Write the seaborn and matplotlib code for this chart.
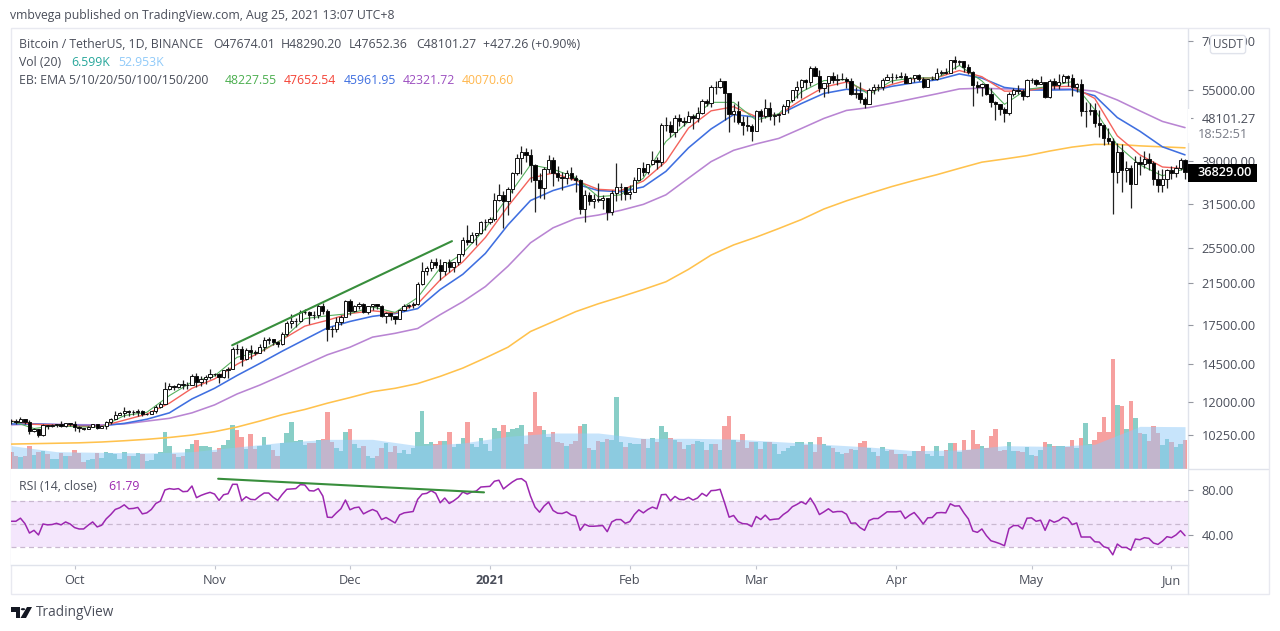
import matplotlib
matplotlib.use("Agg")
import matplotlib.pyplot as plt
from matplotlib.patches import Rectangle, Polygon, Circle
import pandas as pd
import seaborn as sns

# ===============================
# DATA
# ===============================
closes = [
    # Sep 17 - Sep 30
    10938, 10920, 11080, 10920, 10417, 10529, 10241, 10737, 10690, 10728, 10774, 10696, 10840, 10776,
    # Oct
    10619, 10570, 10545, 10665, 10790, 10600, 10670, 10925, 11050, 11296, 11370, 11530, 11425, 11430, 11505, 11320,
    11360, 11495, 11750, 11910, 12800, 12965, 12931, 13107, 13031, 13070, 13640, 13280, 13455, 13560, 13803,
    # Nov
    13763, 13549, 14023, 14144, 15590, 15579, 14817, 15475, 15328, 15297, 15701, 16276, 16317, 16068, 15955,
    16716, 17645, 17804, 17817, 18621, 18642, 18370, 18364, 19160, 18720, 17150, 17139, 17719, 18184, 19695,
    # Dec
    18765, 19204, 19421, 18650, 19147, 19359, 19166, 18324, 18541, 18254, 18036, 18808, 19175, 19273, 19426, 21335,
    22797, 23107, 23821, 23455, 22719, 23810, 23232, 23729, 24712, 26493, 26281, 27079, 27385, 28875, 28923,
    # Jan
    29331, 32178, 33000, 31988, 33949, 36769, 39432, 40582, 40088, 38150, 35404, 34051, 37371, 39145, 36742, 35994,
    35828, 36631, 35891, 35468, 30850, 32945, 32078, 32259, 32254, 32467, 30366, 33364, 34252, 34262, 33092,
    # Feb
    33526, 35466, 37618, 36936, 38290, 39186, 38795, 46374, 46420, 44807, 47969, 47287, 47153, 48577, 47911, 49133,
    52119, 51552, 55906, 55841, 57408, 54087, 48891, 49676, 47073, 46276, 46106, 45135,
    # Mar
    49587, 48440, 50349, 48374, 48751, 48882, 50971, 52375, 54884, 55851, 57773, 57221, 61188, 58968, 55605, 56900,
    58912, 57648, 58030, 58102, 57351, 54083, 54340, 52527, 51417, 55074, 55863, 55777, 57635, 58746, 58740,
    # Apr
    58720, 58950, 57059, 58206, 59054, 58020, 55947, 58048, 58102, 59774, 59964, 59834, 63588, 62971, 63229, 61427,
    60058, 56274, 55715, 56573, 53965, 51810, 51320, 50050, 49066, 54022, 55033, 54825, 53556, 57694,
    # May
    57800, 56578, 57169, 53200, 57437, 56393, 57314, 58862, 58240, 55816, 56670, 49631, 49670, 49841, 46762, 46431,
    43538, 42909, 36973, 40596, 37304, 37536, 34770, 38705, 38402, 39294, 38556, 35658, 34581, 35663, 37294,
    # Jun
    36687, 37555, 39187, 36829,
]
opens = [10940] + closes[:-1]
highs = [
    11040, 11040, 11180, 11050, 10990, 10570, 10540, 10780, 10760, 10790, 10800, 10950, 10860, 10850,
    10930, 10670, 10590, 10700, 10800, 10800, 10690, 10960, 11100, 11490, 11450, 11720, 11560, 11550, 11630, 11540,
    11410, 11520, 11820, 12040, 13220, 13190, 13030, 13170, 13350, 13250, 13790, 13860, 13650, 13680, 14100,
    13870, 13830, 14070, 14260, 15750, 15970, 15770, 15660, 15840, 15480, 15960, 16480, 16480, 16350, 16180,
    16880, 17860, 18480, 18140, 18820, 18960, 18750, 18770, 19420, 19480, 18920, 17450, 18150, 18350, 19800,
    19890, 19310, 19540, 19500, 19180, 19420, 19420, 19290, 18640, 18560, 18290, 18950, 19410, 19350, 19570, 21560,
    23800, 23280, 24170, 24300, 24100, 23840, 24100, 23780, 24790, 26870, 28420, 27500, 27410, 28990, 29300,
    29600, 33300, 34780, 33600, 34360, 36940, 40360, 41950, 41380, 41350, 38260, 36630, 37850, 40100, 39750, 37950,
    36850, 37300, 37850, 36400, 35600, 33830, 33450, 33070, 34880, 32920, 32550, 33780, 38500, 34930, 34280,
    34700, 35980, 37660, 38700, 38300, 40950, 39700, 46790, 48200, 47310, 48680, 48980, 48150, 49700, 49000, 50600,
    52620, 52550, 56370, 57580, 58350, 57540, 54200, 51370, 52040, 48370, 48380, 46500,
    49800, 50200, 52640, 51770, 49450, 49200, 51450, 52400, 54900, 57390, 58150, 58050, 61840, 61700, 60630, 56940,
    58980, 60100, 59450, 59880, 58590, 58400, 55840, 57200, 53230, 55450, 56640, 56580, 58400, 59370, 59800,
    59490, 60050, 59800, 58490, 59250, 59480, 58650, 58150, 58900, 61300, 60690, 61200, 63780, 64850, 63800, 63520,
    62500, 60400, 57600, 57000, 56760, 55460, 52130, 51170, 50600, 54360, 55460, 56430, 55200, 57960,
    58460, 57940, 59000, 57200, 58000, 58360, 59500, 59500, 59300, 59600, 56900, 58000, 52000, 51560, 51570, 49800,
    46650, 45800, 43550, 42460, 42250, 38850, 38250, 39920, 39800, 40850, 40400, 38900, 37240, 37500, 37500,
    37900, 38230, 39480, 39300,
]
lows = [
    10780, 10820, 10900, 10800, 10260, 10360, 10150, 10200, 10530, 10650, 10630, 10640, 10640, 10670,
    10430, 10370, 10500, 10530, 10630, 10530, 10570, 10530, 10820, 11040, 11280, 11180, 11200, 11270, 11230, 11200,
    11300, 11330, 11410, 11680, 11900, 12720, 12720, 12880, 12800, 12790, 13060, 12950, 12980, 13150, 13430,
    13620, 13200, 13520, 13520, 14090, 15190, 14340, 14720, 14810, 15080, 15280, 15440, 15950, 15860, 15700,
    15870, 16560, 17210, 17350, 17760, 18420, 17610, 18010, 18080, 18480, 16190, 16530, 16880, 17520, 18180,
    18330, 18620, 18870, 18580, 18500, 18860, 18900, 18200, 17650, 17910, 17570, 18020, 18710, 19000, 19050, 19280,
    21230, 22350, 22750, 23060, 21810, 22350, 22700, 22600, 23440, 24500, 25850, 26100, 25880, 27320, 27850,
    28620, 29000, 32000, 28130, 29900, 33300, 36300, 36500, 38720, 35100, 30420, 32530, 32380, 36700, 34400, 35360,
    33850, 34800, 35500, 33400, 30070, 28850, 31400, 30900, 31900, 30830, 29240, 29840, 31990, 32200, 32170,
    32300, 33420, 35400, 36160, 36570, 38100, 37350, 38050, 45000, 43730, 43730, 46250, 46200, 47050, 45570, 47010,
    48950, 50880, 50700, 53860, 55480, 47600, 44890, 47000, 46700, 44100, 45000, 43000,
    45000, 47000, 48100, 47500, 46300, 47070, 48880, 49270, 51830, 53000, 53020, 55270, 56080, 58960, 54570, 53210,
    54120, 57020, 56270, 57820, 55450, 53650, 53000, 51700, 50430, 51500, 53960, 54680, 54900, 57850, 56870,
    57930, 58450, 57000, 56960, 57300, 57600, 55470, 55700, 57700, 57900, 59170, 59360, 59800, 61000, 62020, 60000,
    59580, 50930, 54200, 53350, 53600, 50580, 47500, 48750, 47000, 48800, 53320, 53900, 52330, 53070,
    57000, 56040, 56900, 53000, 52900, 55200, 55300, 56900, 56230, 53400, 54370, 48500, 46000, 48800, 46000, 43800,
    42100, 42200, 30000, 34900, 33500, 35200, 31000, 34800, 36400, 37700, 37200, 34700, 33400, 33400, 34200,
    35670, 35980, 37180, 35600,
]
volumes = [
    52, 40, 36, 38, 68, 42, 50, 54, 44, 30, 30, 48, 38, 40, 58, 48, 20, 26, 30, 48,
    34, 50, 48, 44, 30, 50, 40, 40, 48, 46, 24, 26, 44, 50, 110, 68, 46, 36, 38, 60,
    76, 88, 70, 68, 66, 50, 62, 72, 88, 132, 116, 96, 60, 104, 60, 70, 96, 72, 56, 38,
    78, 108, 140, 84, 88, 72, 78, 78, 88,
    90, 172, 80, 64, 54, 110, 120, 74, 64, 68, 38, 34, 40, 62, 78, 52, 68, 48, 56, 46,
    62, 110, 174, 76, 82, 74, 84, 84, 112, 66, 74, 94, 140, 76, 66, 92, 74, 54, 122, 114,
    132, 110, 120, 124, 132, 76, 112, 232, 128, 116, 96, 112, 82, 78, 70, 74, 84, 128, 136, 64,
    56, 84, 82, 90, 88, 216, 82, 66, 78, 74, 76,
    90, 64, 94, 82, 130, 110, 92, 86, 82, 60, 72, 76, 84, 82, 58, 76, 76, 56, 128, 158,
    88, 80, 104, 64, 80, 82, 60, 80, 80, 74, 44, 54, 64, 70, 82, 80, 72, 80, 52, 96,
    74, 70, 64, 52, 44, 48, 60, 58, 78, 84, 62, 50, 40, 66, 54, 58, 46, 46, 46, 40,
    54, 54, 68, 44, 40, 68, 40, 56, 78, 78, 52,
    88, 58, 118, 76, 70, 64, 98, 120, 54, 56, 82, 54, 54, 52, 66, 42, 38, 56, 80, 74,
    70, 70, 68, 66, 88, 62, 94, 138, 76, 88, 110, 156, 112, 330, 192, 190, 120, 204, 152, 108,
    104, 84, 128, 108, 72, 90, 80, 66, 74, 88,
]
vol_ma_idx = list(range(0, 261, 10))
vol_ma = [70, 52, 50, 48, 52, 66, 80, 89, 89, 70, 78, 98, 108, 108, 92, 92, 90, 82, 74, 66, 55, 57, 70, 68, 74, 128, 127]
rsi = [
    52.5, 52.5, 55.2, 50.4, 42.1, 44.5, 40.4, 50.1, 49.3, 49.6, 50.7, 49.3, 51.9, 50.1, 46.9, 45.7, 45.7, 49, 51.9, 47.5,
    49, 54.6, 58.4, 62.9, 64.4, 67, 63.5, 63.8, 64.7, 59, 59.9, 62.9, 68.2, 70.3, 80.1, 81.3, 80.7, 81.3, 78.6, 78.9,
    83.6, 73.3, 75.3, 76.8, 78, 76.5, 70.9, 75.9, 76.8, 85.1, 85.1, 70.6, 74.1, 71.8, 71.5, 74.7, 77.4, 77.4, 73.6, 70.9,
    76.2, 80.7, 81, 81.3, 84.8, 84.5, 79.5, 79.2, 81.3,
    74.7, 56.1, 55.8, 59.9, 63.5, 71.2, 62.6, 64.4, 65, 59, 61.1, 62.9, 61.1, 54, 55.8, 53.4, 51, 58.1, 59.9, 60.5,
    61.1, 71.8, 76.5, 77.1, 79.5, 77.1, 68.8, 73, 68.2, 70.6, 73.6, 78.3, 76.5, 78.3, 79.2, 82.7, 83, 83.3, 87.8, 88.7,
    81, 84.2, 87.2, 89.6, 90.1, 87.2, 74.7, 65, 60.5, 65.9, 69.4, 62, 59.6, 59.3, 60.8, 58.1, 57, 44.5, 49.9, 48.1,
    48.1, 48.4, 48.7, 43.3, 51.9, 54, 54, 50.7, 52.2, 58.4, 62.6,
    59.9, 62.9, 65, 63.5, 75.9, 76.2, 70.6, 74.4, 71.8, 71.5, 73.6, 71.2, 73, 77.1, 74.7, 79.5, 79.8, 80.7, 68.8, 56.1,
    57.6, 52.2, 50.4, 50.1, 47.8, 56.7, 54, 57.9, 53.7, 54.3, 54.6, 58.4, 61.1, 65.3, 67.3, 69.7, 67.6, 73, 66.7, 58.4,
    60.8, 63.5, 60.5, 61.1, 61.1, 58.7, 50.7, 51, 46.9, 44.5, 53.1, 54.9, 54.9, 57.9, 60.8, 60.8, 60.8, 61.4, 54.9, 57.9,
    60.2, 55.5, 50.1, 55.5, 55.8, 59.9, 60.2, 59.9, 67.9, 65.9, 66.1,
    59.9, 54.6, 43.9, 42.7, 45.7, 39.8, 35.3, 34.1, 32.7, 30.9, 46, 48.7, 48.7, 45.7, 55.2, 55.5, 52.5, 53.4, 44.5, 53.7,
    51.6, 53.1, 56.1, 54.9, 49.6, 51, 38.6, 38.6, 38.6, 34.4, 34.1, 30, 28.8, 22.9, 32.4, 29.4, 29.4, 27, 36.8, 36.2,
    38, 37.4, 33.3, 32.1, 35, 38.9, 38, 40.4, 44.2, 39.8,
]

# EMA lines, one reading every 5 candles
ema_idx = list(range(0, 261, 5))
ema5 = [10950, 10560, 10720, 10640, 10640, 11250, 11430, 12400, 13250, 13650, 14950, 15350, 16300, 18050, 18300, 18500,
        19100, 18600, 20000, 23100, 24800, 28000, 32700, 38200, 37400, 35900, 32700, 33000, 35800, 42800, 47200, 51800,
        51800, 47500, 49000, 54500, 57600, 57900, 53800, 57500, 58400, 58300, 62000, 57500, 51300, 55200, 56000, 57300,
        50000, 42000, 38200, 36200, 37500]
ema10 = [10950, 10780, 10740, 10680, 10680, 11000, 11330, 11950, 12850, 13450, 14450, 15300, 16300, 17400, 17900, 18500,
         18750, 18550, 19400, 21800, 23800, 26800, 31200, 35800, 36700, 35400, 33900, 33700, 35300, 38800, 45700, 49700,
         50700, 48300, 48800, 52400, 55800, 57200, 54500, 56500, 58200, 58400, 60500, 58700, 54700, 54800, 55900, 56000,
         52800, 44000, 40100, 37800, 37500]
ema20 = [10800, 10800, 10760, 10720, 10700, 10830, 11050, 11400, 12200, 12850, 13680, 14500, 15400, 16300, 17250, 17800,
         18250, 18500, 18950, 20800, 22400, 24800, 28500, 32100, 33700, 34800, 33700, 33500, 34300, 37000, 41500, 45500,
         48800, 48200, 48800, 51500, 54100, 55200, 54700, 56000, 57000, 57800, 59500, 58300, 55700, 55000, 55000, 55100,
         53500, 48100, 45000, 41700, 40100]
ema50 = [10750, 10800, 10780, 10760, 10750, 10800, 10950, 11100, 11400, 11850, 12500, 13050, 13700, 14400, 15130, 15700,
         16490, 16800, 17200, 18400, 19600, 21100, 23300, 26120, 28100, 29400, 29900, 30600, 31500, 33000, 35800, 38800,
         41000, 42300, 43450, 45600, 47900, 49800, 50500, 51600, 52800, 54000, 55300, 55500, 55300, 55300, 55300, 55300,
         54700, 52400, 49700, 47200, 45800]
ema200 = [9790, 9810, 9830, 9850, 9890, 9950, 10020, 10110, 10230, 10400, 10640, 10950, 11300, 11590, 11950, 12280,
          12640, 12850, 13150, 13620, 14180, 14900, 15700, 16950, 17780, 18670, 19400, 20070, 20800, 21600, 22950, 24600,
          25850, 26850, 28000, 29250, 30800, 32050, 33200, 34350, 35400, 36400, 37550, 38700, 39300, 39950, 40850, 41650,
          42200, 42200, 41900, 41700, 41500]

price_ticks = [70000, 55000, 48101.27, 39000, 31500, 25500, 21500, 17500, 14500, 12000, 10250]
rsi_ticks = [80, 40]
month_idx = [14, 45, 75, 106, 137, 165, 196, 226, 257]
month_labels = ["Oct", "Nov", "Dec", "2021", "Feb", "Mar", "Apr", "May", "Jun"]

# hand drawn trend lines on the two panes
trend_price_idx = [48.9, 97.6]
trend_price_val = [15850, 26330]
trend_rsi_idx = [45.8, 104.7]
trend_rsi_val = [90, 78]

assert len(closes) == len(highs) == len(lows) == len(volumes) == len(rsi) == 261, \
    (len(closes), len(highs), len(lows), len(volumes), len(rsi))
assert all(len(e) == len(ema_idx) for e in [ema5, ema10, ema20, ema50, ema200])
assert len(vol_ma) == len(vol_ma_idx), (len(vol_ma), len(vol_ma_idx))

df = pd.DataFrame({"idx": range(len(closes)), "open": opens, "high": highs, "low": lows,
                   "close": closes, "vol": volumes, "rsi": rsi})
df["up"] = df["close"] >= df["open"]

# ===============================
# FIGURE
# ===============================
sns.set_theme(style="white")
plt.rcParams["font.family"] = ["Open Sans", "DejaVu Sans"]

W, H = 1280, 631
TEXT = "#4a4e5a"
GRID = "#e0e3eb"
FS = 9.2
HEAD_FS = 8.85

fig = plt.figure(figsize=(W / 100, H / 100), dpi=100, facecolor="white")


def rect(left, top, right, bottom):
    return [left / W, 1 - bottom / H, (right - left) / W, (bottom - top) / H]


def put(x, y, s, color=TEXT, **kw):
    kw.setdefault("fontsize", HEAD_FS)
    kw.setdefault("va", "center")
    fig.text(x / W, 1 - y / H, s, color=color, **kw)


ax_vol = fig.add_axes(rect(11, 29, 1188, 469), zorder=1)
ax_price = fig.add_axes(rect(11, 29, 1188, 469), zorder=2, facecolor="none")
ax_rsi = fig.add_axes(rect(11, 469, 1188, 565), zorder=2)
xlim = (-0.09, 260.66)

# ===============================
# VOLUME
# ===============================
sns.barplot(data=df, x="idx", y="vol", hue="up", palette={True: "#26a69a", False: "#ef5350"},
            native_scale=True, dodge=False, width=1.0, gap=0, alpha=0.55, saturation=1,
            errorbar=None, legend=False, ax=ax_vol)
for bar in ax_vol.patches:
    bar.set_linewidth(0)
ax_vol.fill_between(vol_ma_idx, vol_ma, color="#90caf9", alpha=0.5, lw=0, zorder=5)
ax_vol.set_xlim(xlim)
ax_vol.set_ylim(0, 1320)
ax_vol.axis("off")

# ===============================
# PRICE
# ===============================
ax_price.set_yscale("log")
for vals, col, width in [(ema200, "#ffc24d", 1.15), (ema50, "#b985d3", 1.15), (ema20, "#3f6fe0", 1.15),
                         (ema10, "#f4635c", 1.0), (ema5, "#58b05e", 0.8)]:
    sns.lineplot(x=ema_idx, y=vals, color=col, lw=width, errorbar=None, ax=ax_price, zorder=2)
ax_price.vlines(df["idx"], df["low"], df["high"], color="#222222", lw=0.9, zorder=3)
ax_price.bar(df["idx"], (df["close"] - df["open"]).abs(), bottom=df[["open", "close"]].min(axis=1),
             width=0.72, color=["white" if u else "black" for u in df["up"]],
             edgecolor="#111111", linewidth=0.7, zorder=4)
sns.lineplot(x=trend_price_idx, y=trend_price_val, color="#388e3c", lw=1.5, errorbar=None, ax=ax_price, zorder=6)
ax_price.set_xlim(xlim)
ax_price.set_ylim(8670, 74070)
ax_price.yaxis.tick_right()
ax_price.set_yticks(price_ticks)
ax_price.set_yticklabels([f"{t:.2f}" for t in price_ticks])
ax_price.minorticks_off()
ax_price.tick_params(axis="y", which="major", right=True, length=3.6, width=0.8, color="#9598a1",
                     labelsize=FS, labelcolor=TEXT, pad=6)
ax_price.tick_params(axis="x", which="both", bottom=False, labelbottom=False)
for s in ["top", "left", "bottom", "right"]:
    ax_price.spines[s].set_visible(False)

# ===============================
# RSI
# ===============================
ax_rsi.axhspan(30, 70, color="#f4e6fc", lw=0)
for lvl in [30, 50, 70]:
    ax_rsi.axhline(lvl, color="#c9b8d0", lw=0.9, ls=(0, (4, 3)))
sns.lineplot(data=df, x="idx", y="rsi", color="#9c27b0", lw=1.1, errorbar=None, ax=ax_rsi, zorder=5)
sns.lineplot(x=trend_rsi_idx, y=trend_rsi_val, color="#388e3c", lw=1.5, errorbar=None, ax=ax_rsi, zorder=6)
ax_rsi.set_xlim(xlim)
ax_rsi.set_ylim(13.9, 98.6)
ax_rsi.set_xlabel("")
ax_rsi.set_ylabel("")
ax_rsi.yaxis.tick_right()
ax_rsi.set_yticks(rsi_ticks)
ax_rsi.set_yticklabels([f"{t:.2f}" for t in rsi_ticks])
ax_rsi.set_xticks(month_idx)
ax_rsi.set_xticklabels(month_labels)
ax_rsi.tick_params(axis="y", right=True, length=3.6, width=0.8, color="#9598a1", labelsize=FS, labelcolor=TEXT, pad=6)
ax_rsi.tick_params(axis="x", bottom=True, length=3, width=0.8, color="#c0c3cc", labelsize=FS, labelcolor=TEXT, pad=3.5)
ax_rsi.get_xticklabels()[3].set_fontweight("bold")
for s in ["top", "left", "right"]:
    ax_rsi.spines[s].set_visible(False)
ax_rsi.spines["bottom"].set_color(GRID)
ax_rsi.spines["bottom"].set_linewidth(1)

# ===============================
# FRAME AND LABELS
# ===============================
fig.add_artist(Rectangle((10.5 / W, 1 - 594 / H), 1258 / W, 566 / H, transform=fig.transFigure,
                         fill=False, ec="#e8e9f0", lw=1))
fig.add_artist(plt.Line2D([1188 / W] * 2, [1 - 29 / H, 1 - 594 / H], transform=fig.transFigure, color=GRID, lw=1))
fig.add_artist(plt.Line2D([10.5 / W, 1268 / W], [1 - 469 / H] * 2, transform=fig.transFigure, color=GRID, lw=1))

put(10, 16, "vmbvega published on TradingView.com, Aug 25, 2021 13:07 UTC+8")
for x, s in [(19, "Bitcoin / TetherUS, 1D, BINANCE"), (213, "O47674.01"), (281, "H48290.20"),
             (349, "L47652.36"), (416, "C48101.27"), (483, "+427.26 (+0.90%)")]:
    put(x, 45, s)
put(19, 62, "Vol (20)")
put(71, 62, "6.599K", "#26a69a")
put(118, 62, "52.953K", "#90caf9")
put(19, 81, "EB: EMA 5/10/20/50/100/150/200")
for x, s, col in [(225, "48227.55", "#4caf50"), (284, "47652.54", "#f44336"), (344, "45961.95", "#3f6fe0"),
                  (403, "42321.72", "#9c4fc0"), (462, "40070.60", "#ffb74d")]:
    put(x, 81, s, col)
put(19, 487, "RSI (14, close)", zorder=10)
put(108, 487, "61.79", "#9c27b0", zorder=10)

# last price, countdown and currency tags on the price scale
fig.add_artist(Rectangle((1187.5 / W, 1 - 143 / H), 3 / W, 34 / H, transform=fig.transFigure, color="white", lw=0, zorder=3))
fig.add_artist(Rectangle((1188 / W, 1 - 182 / H), 69 / W, 18 / H, transform=fig.transFigure, color="black", lw=0, zorder=5))
put(1198, 173, "36829.00", "white", zorder=6, fontsize=FS, fontweight="semibold")
put(1198, 134, "18:52:51", "#787b86", zorder=6, fontsize=FS)
put(1228, 44.5, "USDT", zorder=6, ha="center", fontsize=8.5,
    bbox=dict(boxstyle="round,pad=0.22", fc="white", ec=GRID, lw=1))

# TradingView mark
logo = "#131722"
fig.add_artist(Polygon([(11 / W, 1 - 607 / H), (20 / W, 1 - 607 / H), (20 / W, 1 - 618 / H), (15.5 / W, 1 - 618 / H),
                        (15.5 / W, 1 - 611.5 / H), (11 / W, 1 - 611.5 / H)], transform=fig.transFigure, color=logo, lw=0))
fig.add_artist(Circle((23 / W, 1 - 609.2 / H), 2.2 / W, transform=fig.transFigure, color=logo, lw=0))
fig.add_artist(Polygon([(27 / W, 1 - 607 / H), (32 / W, 1 - 607 / H), (26 / W, 1 - 618 / H), (20.5 / W, 1 - 618 / H)],
                       transform=fig.transFigure, color=logo, lw=0))
put(36, 613, "TradingView", fontsize=9.8)

fig.savefig("out.png", dpi=100)
plt.close(fig)
